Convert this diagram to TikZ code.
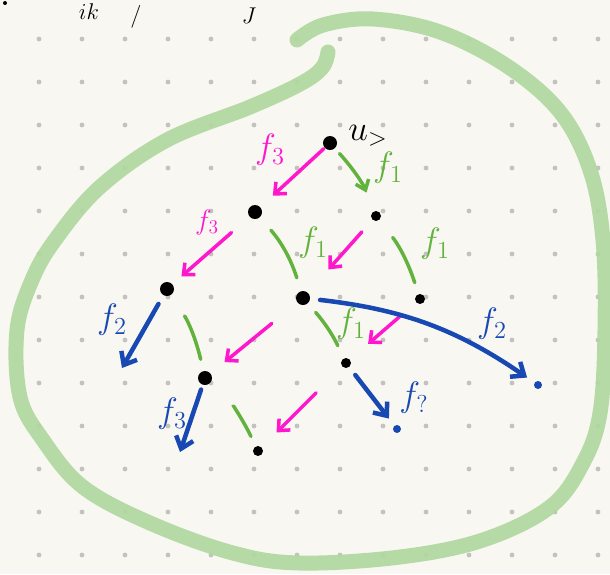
\documentclass[tikz,border=0pt]{standalone}
\usepackage{tikz}
\usetikzlibrary{arrows.meta,positioning}
\definecolor{PaperWhite}{RGB}{249,247,242}
\definecolor{GridGray}{RGB}{196,194,190}
\definecolor{LoopGreen}{RGB}{176,216,160}
\definecolor{PenGreen}{RGB}{98,178,62}
\definecolor{PenPink}{RGB}{255,22,205}
\definecolor{PenBlue}{RGB}{24,72,178}

\begin{document}
\begin{tikzpicture}[
  x=1pt,y=-1pt,
  vtx/.style={circle,fill=black,inner sep=0pt,minimum size=14pt},
  smallvtx/.style={circle,fill=black,inner sep=0pt,minimum size=10pt},
  enddot/.style={circle,fill=PenBlue,inner sep=0pt,minimum size=8pt},
  pinkarr/.style={-{Straight Barb[length=9pt,width=16pt]},PenPink,line width=3.5pt,line cap=round},
  greenarr/.style={-{Straight Barb[length=9pt,width=14pt]},PenGreen,line width=3.5pt,line cap=round},
  greenline/.style={PenGreen,line width=3.5pt,line cap=round},
  bluearr/.style={-{Straight Barb[length=11pt,width=18pt]},PenBlue,line width=4.5pt,line cap=round},
  lbl/.style={font=\huge,scale=1.7},
  smalllbl/.style={font=\huge,scale=1.35},
  hdr/.style={font=\huge,scale=1.1,inner sep=1pt},
]
\useasboundingbox (0,0) rectangle (610,574);
\clip (0,0) rectangle (610,574);
\fill[PaperWhite] (0,0) rectangle (610,574);

%% dotted paper
\foreach \i in {0,...,14}
  \foreach \j in {0,...,13}
    \fill[GridGray] (-4+43*\i,-4+43*\j) circle (2.4pt);

%% heading (top edge)
\fill (5,3) circle (2pt);
\node[hdr] (hdrA) at (89,12) {$ik$};
\node[hdr] (hdrB) at (136,17) {$/$};
\node[hdr] (hdrC) at (249,16) {$J$};

%% the set
\draw[LoopGreen,line width=15pt,line cap=round,draw opacity=0.92]
  plot[smooth,tension=0.6] coordinates {(297,40) (323,25) (373,19) (440,32)
    (507,66) (560,112) (590,170) (603,240) (605,330) (600,413) (583,463)
    (550,507) (483,540) (400,557) (300,563) (233,553) (150,523) (83,487)
    (43,440) (20,397) (17,330) (32,280) (55,240) (100,187) (167,140)
    (250,107) (300,84) (322,68) (328,52)};

%% points
\node[vtx]      (u) at (330,143) {};
\node[vtx]      (a) at (255,212) {};
\node[smallvtx] (b) at (376,216) {};
\node[vtx]      (c) at (167,289) {};
\node[vtx]      (d) at (303,298) {};
\node[smallvtx] (e) at (420,299) {};
\node[vtx]      (f) at (205,378) {};
\node[smallvtx] (g) at (346,363) {};
\node[smallvtx] (h) at (258,451) {};
\node[enddot]   (q) at (538,385) {};
\node[enddot]   (r) at (397,429) {};
\coordinate     (p) at (122,368);
\coordinate     (s) at (180,452);

\node[lbl] (ulbl) at (368,136) {$u_{>}$};

%% f3 steps
\draw[pinkarr,shorten <=1pt,shorten >=17pt]  (u) -- (a);
\draw[pinkarr,shorten <=24pt,shorten >=12pt] (a) -- (c);
\draw[pinkarr,shorten <=16pt,shorten >=31pt] (b) -- (d);
\draw[pinkarr,shorten <=33pt,shorten >=18pt] (d) -- (f);
\draw[pinkarr,shorten <=20pt,shorten >=24pt] (e) -- (g);
\draw[pinkarr,shorten <=37pt,shorten >=21pt] (g) -- (h);
\node[lbl,text=PenPink]      (lf3a) at (270,150) {$f_3$};
\node[smalllbl,text=PenPink] (lf3b) at (207,222) {$f_3$};

%% f1 steps
\draw[greenarr,shorten <=7pt,shorten >=20pt]    (u) to[bend left=10] (b);
\draw[greenline,shorten <=17pt,shorten >=14pt]  (a) to[bend left=12] (d);
\draw[greenline,shorten <=22pt,shorten >=12pt]  (b) to[bend left=10] (e);
\draw[greenline,shorten <=25pt,shorten >=12pt]  (c) to[bend left=10] (f);
\draw[greenline,shorten <=12pt,shorten >=14pt]  (d) to[bend left=8] (g);
\draw[greenline,shorten <=33pt,shorten >=11pt]  (f) to[bend left=10] (h);
\node[lbl,text=PenGreen] (lf1a) at (388,168) {$f_1$};
\node[lbl,text=PenGreen] (lf1b) at (313,243) {$f_1$};
\node[lbl,text=PenGreen] (lf1c) at (435,244) {$f_1$};
\node[lbl,text=PenGreen] (lf1d) at (351,324) {$f_1$};

%% f2 and the rest
\draw[bluearr,shorten <=10pt]               (c) -- (p);
\draw[bluearr,shorten <=10pt,shorten >=9pt] (d) to[bend left=14] (q);
\draw[bluearr,shorten <=5pt]                (f) -- (s);
\draw[bluearr,shorten <=10pt,shorten >=9pt] (g) -- (r);
\node[lbl,text=PenBlue] (lf2a) at (112,320) {$f_2$};
\node[lbl,text=PenBlue] (lf2b) at (492,324) {$f_2$};
\node[lbl,text=PenBlue] (lf3c) at (172,414) {$f_3$};
\node[lbl,text=PenBlue] (lfq)  at (414,398) {$f_?$};

\end{tikzpicture}
\end{document}
